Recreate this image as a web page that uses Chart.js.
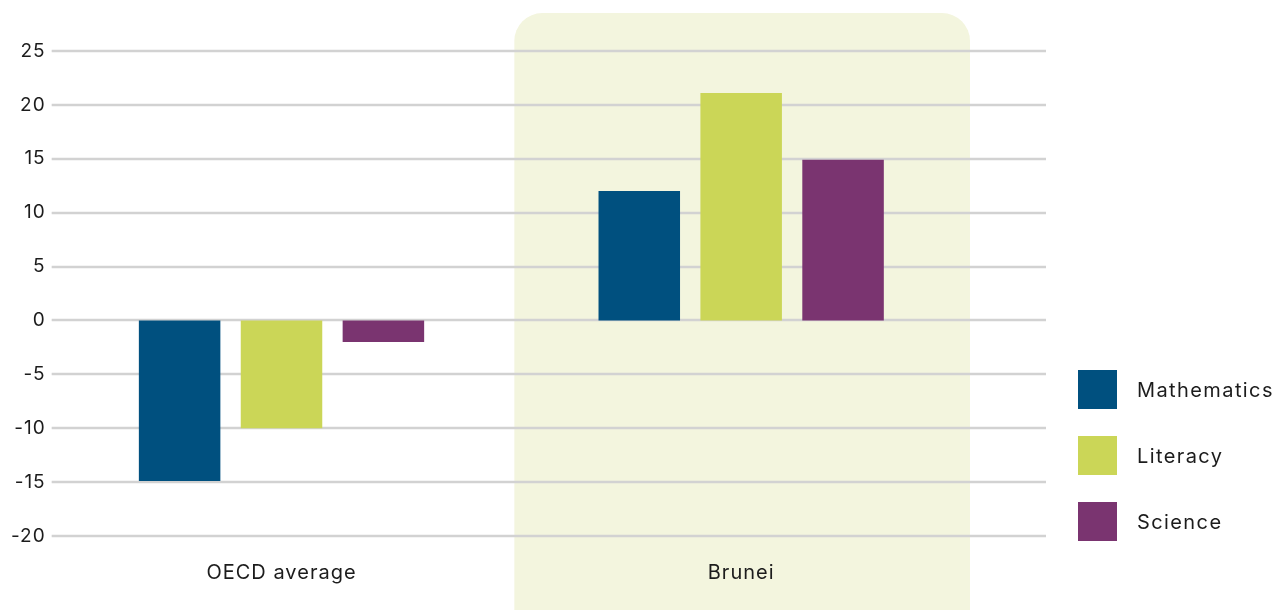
<!DOCTYPE html>
<html>
<head>
<meta charset="utf-8">
<script src="https://cdn.jsdelivr.net/npm/chart.js@4"></script>
<style>
  body { margin: 0; background: #fff; font-family: Inter, sans-serif; }
  .wrap { position: relative; width: 1288px; height: 610px; }
  .legend { position: absolute; left: 1078px; top: 370px; }
  .legend-item { display: flex; align-items: center; height: 39px; margin-bottom: 27px; }
  .legend-box { width: 39px; height: 39px; margin-right: 20px; }
  .legend-text { font-size: 20px; letter-spacing: 1.4px; color: #1c1c1c; }
</style>
</head>
<body>
<div class="wrap">
  <canvas id="myChart" width="1288" height="610"></canvas>
  <div class="legend" id="legend"></div>
</div>
<script>
const categories = ["OECD average", "Brunei"];
const mathematics = [-14.9, 12];
const literacy = [-10, 21.1];
const science = [-2, 14.9];
const yTicks = [-20, -15, -10, -5, 0, 5, 10, 15, 20, 25];

const colors = {
  Mathematics: "#00507f",
  Literacy: "#cbd657",
  Science: "#7a3470",
};

// pale panel behind the Brunei group + grid lines that run past the plot
const backdrop = {
  id: "backdrop",
  beforeLayout(chart) {
    chart.ctx.letterSpacing = "1px";
  },
  beforeDraw(chart) {
    const { ctx, chartArea, scales } = chart;
    const x = scales.x;
    const y = scales.y;
    const half = (x.getPixelForValue(1) - x.getPixelForValue(0)) / 2;
    const left = x.getPixelForValue(1) - half + 3;
    const right = x.getPixelForValue(1) + half - 1;
    ctx.save();
    ctx.fillStyle = "#f3f5de";
    ctx.beginPath();
    ctx.roundRect(left, 13, right - left, 640, 28);
    ctx.fill();
    ctx.strokeStyle = "#d2d2d2";
    ctx.lineWidth = 2.5;
    yTicks.forEach((t) => {
      const py = Math.round(y.getPixelForValue(t));
      ctx.beginPath();
      ctx.moveTo(chartArea.left, py);
      ctx.lineTo(1046, py);
      ctx.stroke();
    });
    ctx.restore();
    ctx.letterSpacing = "1px";
  },
};

const ctx = document.getElementById("myChart");

const chart = new Chart(ctx, {
  type: "bar",
  data: {
    labels: categories,
    datasets: [
      { label: "Mathematics", data: mathematics, backgroundColor: colors.Mathematics },
      { label: "Literacy", data: literacy, backgroundColor: colors.Literacy },
      { label: "Science", data: science, backgroundColor: colors.Science },
    ],
  },
  options: {
    responsive: false,
    animation: false,
    layout: { padding: { top: 51, right: 317, left: 5, bottom: 8 } },
    datasets: {
      bar: { categoryPercentage: 0.665, barPercentage: 0.8 },
    },
    scales: {
      y: {
        min: -20,
        max: 25,
        afterBuildTicks: (axis) => {
          axis.ticks = yTicks.map((v) => ({ value: v }));
        },
        border: { display: false },
        grid: { display: false, drawTicks: false },
        ticks: {
          color: "#1c1c1c",
          padding: 6,
          font: { size: 19, family: "Inter" },
          callback: (v) => (v < 0 ? "-" + Math.abs(v) : String(v)),
        },
      },
      x: {
        border: { display: false },
        grid: { display: false },
        ticks: {
          color: "#1c1c1c",
          padding: 17,
          font: { size: 20, family: "Inter" },
        },
      },
    },
    plugins: {
      legend: { display: false },
      tooltip: { enabled: false },
    },
  },
  plugins: [backdrop],
});

const legendEl = document.getElementById("legend");
chart.data.datasets.forEach((ds) => {
  const item = document.createElement("div");
  item.className = "legend-item";
  item.innerHTML =
    '<div class="legend-box" style="background:' + ds.backgroundColor + '"></div>' +
    '<span class="legend-text">' + ds.label + "</span>";
  legendEl.appendChild(item);
});
</script>
</body>
</html>
